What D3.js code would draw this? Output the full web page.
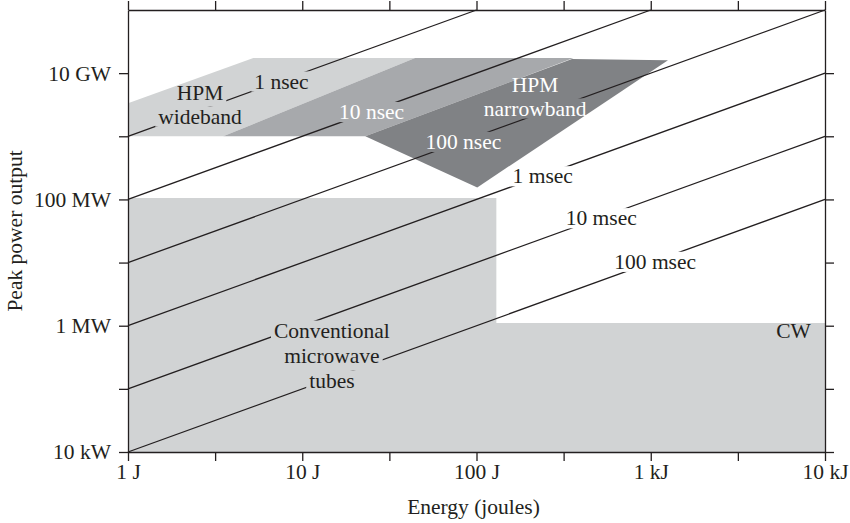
<!DOCTYPE html>
<meta charset="utf-8">
<style>

body {
  margin: 0;
  background: #fff;
}

text {
  font-family: "Liberation Serif", "DejaVu Serif", serif;
}

.axis path,
.axis line {
  stroke: #231f20;
  stroke-width: 1.3;
}

.region--light { fill: #d1d3d4; }
.region--mid { fill: #a7a9ac; }
.region--dark { fill: #808285; }

.pulse {
  stroke: #231f20;
  stroke-width: 1.3;
  fill: none;
}

</style>
<svg width="850" height="523"></svg>
<script src="https://d3js.org/d3.v7.min.js"></script>
<script>

// axis ticks
var energyTicks = [1, 10, 100, 1000, 10000];
var energyLabels = ["1 J", "10 J", "100 J", "1 kJ", "10 kJ"];
var energyMinor = [1, 3.162, 10, 31.62, 100, 316.2, 1000, 3162, 10000];
var powerTicks = [1e4, 1e6, 1e8, 1e10];
var powerLabels = ["10 kW", "1 MW", "100 MW", "10 GW"];
var powerMinor = [1e4, 1e5, 1e6, 1e7, 1e8, 1e9, 1e10];

// constant pulse length lines (seconds), label spot given in joules
var pulseLengths = [1e-9, 1e-8, 1e-7, 1e-6, 1e-5, 1e-4];
var pulseNames = ["1 nsec", "10 nsec", "100 nsec", "1 msec", "10 msec", "100 msec"];
var pulseLabelEnergy = [7.6, 25, 84, 240, 520, 1060];
var pulseLabelWhite = [false, true, true, false, false, false];

// shaded regions as [energy (J), power (W)]
var conventional = [[1, 1.05e8], [130, 1.05e8], [130, 1.1e6], [1e4, 1.1e6], [1e4, 1e4], [1, 1e4]];
var wideband = [[1, 1e9], [1, 3.35e9], [5.24, 1.73e10], [44.4, 1.73e10], [3.52, 1e9]];
var overlap = [[3.52, 1e9], [44.4, 1.73e10], [360, 1.73e10], [23, 1e9]];
var narrowband = [[23, 1e9], [353, 1.68e10], [1256, 1.6e10], [101, 1.55e8]];

// region names, anchored at first baseline [energy, power]
var blockText = [["HPM", "wideband"], ["HPM", "narrowband"], ["Conventional", "microwave", "tubes"], ["CW"]];
var blockEnergy = [2.59, 217, 14.8, 8300];
var blockPower = [3.8e9, 5.1e9, 6.45e5, 6.45e5];

var blockGap = [24, 24, 25, 0];
var blockWhite = [false, true, false, false];
var blockAnchor = ["middle", "middle", "middle", "end"];

var fs = 21.5;

var svg = d3.select("svg"),
    margin = {top: 10, right: 25, bottom: 71, left: 128},
    width = +svg.attr("width") - margin.left - margin.right,
    height = +svg.attr("height") - margin.top - margin.bottom;

var x = d3.scaleLog().domain([1, 1e4]).range([0, width]),
    y = d3.scaleLog().domain([1e4, 1e11]).range([height, 0]);

var g = svg.append("g")
    .attr("transform", "translate(" + margin.left + "," + margin.top + ")");

var area = d3.line()
    .x(function(d) { return x(d[0]); })
    .y(function(d) { return y(d[1]); });

g.append("path").attr("class", "region--light").attr("d", area(conventional) + "Z");
g.append("path").attr("class", "region--light").attr("d", area(wideband) + "Z");
g.append("path").attr("class", "region--mid").attr("d", area(overlap) + "Z");
g.append("path").attr("class", "region--dark").attr("d", area(narrowband) + "Z");

// axes, all four sides make the frame
function energyFormat(d) {
  var i = energyTicks.indexOf(d);
  return i < 0 ? "" : energyLabels[i];
}
function powerFormat(d) {
  var i = powerTicks.indexOf(d);
  return i < 0 ? "" : powerLabels[i];
}

g.append("g")
    .attr("class", "axis")
    .attr("transform", "translate(0," + height + ")")
    .call(d3.axisBottom(x).tickValues(energyMinor).tickFormat(energyFormat)
      .tickSize(9).tickSizeOuter(0).tickPadding(3));

g.append("g")
    .attr("class", "axis")
    .call(d3.axisTop(x).tickValues(energyMinor).tickFormat("")
      .tickSize(9).tickSizeOuter(0));

g.append("g")
    .attr("class", "axis")
    .call(d3.axisLeft(y).tickValues(powerMinor).tickFormat(powerFormat)
      .tickSize(9).tickSizeOuter(0).tickPadding(8));

g.append("g")
    .attr("class", "axis")
    .attr("transform", "translate(" + width + ",0)")
    .call(d3.axisRight(y).tickValues(powerMinor).tickFormat("")
      .tickSize(9).tickSizeOuter(0));

g.selectAll(".axis text")
    .attr("font-family", null)
    .style("font-size", fs + "px")
    .attr("fill", "#231f20");

// pulse length lines, masked where labels sit
var lines = g.append("g").attr("mask", "url(#gaps)");

lines.selectAll(".pulse")
  .data(pulseLengths)
  .enter().append("line")
    .attr("class", "pulse")
    .attr("x1", x(1))
    .attr("y1", function(d) { return y(1 / d); })
    .attr("x2", function(d) { return x(Math.min(1e4, 1e11 * d)); })
    .attr("y2", function(d) { return y(Math.min(1e4, 1e11 * d) / d); });

var labels = g.append("g");
var labelLines = [];

pulseLengths.forEach(function(t, i) {
  var e = pulseLabelEnergy[i];
  var by = y(e / t) + 0.37 * fs;
  var node = labels.append("text")
      .attr("x", x(e))
      .attr("y", by)
      .attr("text-anchor", "middle")
      .style("font-size", fs + "px")
      .attr("fill", pulseLabelWhite[i] ? "#fff" : "#231f20")
      .text(pulseNames[i]);
  labelLines.push([{node: node.node(), base: by}]);
});

blockText.forEach(function(rows, i) {
  var block = [];
  rows.forEach(function(r, j) {
    var by = y(blockPower[i]) + j * blockGap[i];
    var node = labels.append("text")
        .attr("x", x(blockEnergy[i]))
        .attr("y", by)
        .attr("text-anchor", blockAnchor[i])
        .style("font-size", fs + "px")
        .attr("fill", blockWhite[i] ? "#fff" : "#231f20")
        .text(r);
    block.push({node: node.node(), base: by});
  });
  labelLines.push(block);
});

// mask: knock the lines out behind every label
var mask = svg.append("defs").append("mask")
    .attr("id", "gaps")
    .attr("maskUnits", "userSpaceOnUse")
    .attr("x", -margin.left).attr("y", -margin.top)
    .attr("width", 850).attr("height", 523);

mask.append("rect")
    .attr("x", -margin.left).attr("y", -margin.top)
    .attr("width", 850).attr("height", 523)
    .attr("fill", "#fff");

var pad = 3, capH = 0.66 * fs;
labelLines.forEach(function(block) {
  block.forEach(function(row, j) {
    var b = row.node.getBBox();
    var top = row.base - capH - pad;
    var bottom = j < block.length - 1 ? block[j + 1].base - capH - pad : row.base + pad;
    mask.append("rect")
        .attr("x", b.x - pad)
        .attr("y", top)
        .attr("width", b.width + 2 * pad)
        .attr("height", bottom - top)
        .attr("fill", "#000");
  });
});

// axis titles
svg.append("text")
    .attr("x", margin.left + width / 2 - 3)
    .attr("y", 514)
    .attr("text-anchor", "middle")
    .style("font-size", fs + "px")
    .attr("fill", "#231f20")
    .text("Energy (joules)");

svg.append("text")
    .attr("transform", "translate(22," + (margin.top + height / 2) + ") rotate(-90)")
    .attr("text-anchor", "middle")
    .style("font-size", fs + "px")
    .attr("fill", "#231f20")
    .text("Peak power output");

</script>
